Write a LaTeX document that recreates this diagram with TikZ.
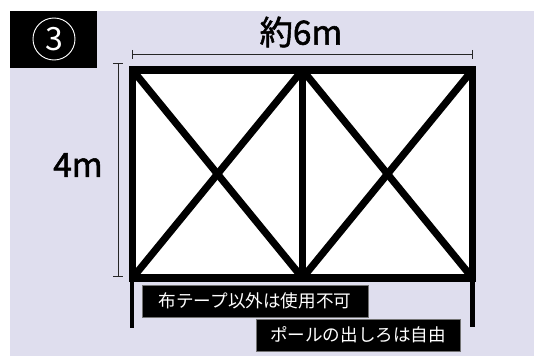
\documentclass[tikz,border=0pt]{standalone}
\usepackage{fontspec}
\setmainfont{Noto Sans CJK JP}
\newfontfamily\dimfont[FakeBold=1.6]{Noto Sans CJK JP}
\definecolor{bgc}{HTML}{DFDEEE}
\tikzset{
  frameline/.style={line width=5.9pt,line cap=butt,line join=miter,black},
  diag/.style={line width=5.4pt,black},
  dimline/.style={line width=0.75pt,draw=black!85},
  legline/.style={line width=3.5pt,black},
  labelbox/.style={fill=black,draw=black!55,line width=0.4pt,text=white,inner sep=0pt,font=\fontsize{13.2pt}{15pt}\selectfont,anchor=center},
  dimtext/.style={black,inner sep=0pt,font=\dimfont\fontsize{25pt}{27pt}\selectfont}
}
\begin{document}
\begin{tikzpicture}[x=0.75pt,y=-0.75pt]
\useasboundingbox (0,0) rectangle (534,356);
\fill[white] (0,0) rectangle (534,356);
\fill[bgc] (10,11) rectangle (534,356);
% panel
\coordinate (TL) at (132.5,70);
\coordinate (TM) at (302.5,70);
\coordinate (TR) at (472.5,70);
\coordinate (BL) at (132.5,278);
\coordinate (BM) at (302.5,278);
\coordinate (BR) at (472.5,278);
\coordinate (LA) at (132,278);
\coordinate (LL) at (132,328);
\coordinate (RA) at (472.5,278);
\coordinate (LR) at (472.5,327);
\fill[white] (TL) rectangle (BR);
\draw[frameline] (TL) rectangle (BR);
\draw[frameline] (TM) -- (BM);
\draw[diag] (TL) -- (BM);
\draw[diag] (BL) -- (TM);
\draw[diag] (TM) -- (BR);
\draw[diag] (BM) -- (TR);
\draw[legline] (LA) -- (LL);
\draw[legline] (RA) -- (LR);
% dimensions
\coordinate (D1) at (132.5,54.5);
\coordinate (D2) at (472.5,54.5);
\coordinate (D3) at (118,64);
\coordinate (D4) at (118,276);
\draw[dimline] (D1) -- (D2);
\draw[dimline] (132.5,50) -- (132.5,59);
\draw[dimline] (472.5,50) -- (472.5,59);
\draw[dimline] (D3) -- (D4);
\draw[dimline] (113,64) -- (123,64);
\draw[dimline] (113,276) -- (123,276);
\node[dimtext] (w) at (301,32) {約6m};
\node[dimtext] (h) at (78,165) {4m};
% badge
\fill[black] (10,11) rectangle (97,68);
\node[circle,draw=white,line width=0.7pt,minimum size=31.5pt,inner sep=0pt,text=white,font=\fontsize{24pt}{26pt}\selectfont] (num) at (54,39) {3};
% labels
\node[labelbox,minimum width=169.5pt,minimum height=24pt] (l1) at (255,301) {布テープ以外は使用不可};
\node[labelbox,minimum width=153pt,minimum height=24pt] (l2) at (358,335) {ポールの出しろは自由};
\end{tikzpicture}
\end{document}
